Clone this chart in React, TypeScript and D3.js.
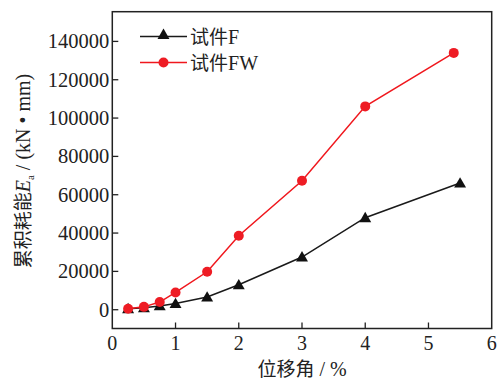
import React from "react";
import * as d3 from "d3";

// Drift ratio (%) and cumulative energy dissipation (kN·mm)
const driftF = [0.25, 0.5, 0.75, 1, 1.5, 2, 3, 4, 5.5];
const energyF = [500, 1000, 2000, 3200, 6600, 13000, 27500, 48000, 66100];
const driftFW = [0.25, 0.5, 0.75, 1, 1.5, 2, 3, 4, 5.4];
const energyFW = [500, 1500, 4000, 9000, 19800, 38600, 67300, 106100, 134000];
const xTicks = [0, 1, 2, 3, 4, 5, 6];
const yTicks = [0, 20000, 40000, 60000, 80000, 100000, 120000, 140000];
const seriesNames = ["F", "FW"];

const W = 500;
const H = 382;
const left = 112.3;
const right = 491.7;
const top = 11.7;
const bottom = 328.5;

const LATIN = "Times New Roman";
const CJK = "Noto Sans CJK SC";

export default function App() {
  const x = d3.scaleLinear().domain([0, 6]).range([left, right]);
  const y = d3.scaleLinear().domain([-9800, 155500]).range([bottom, top]);
  const line = d3
    .line<[number, number]>()
    .x((d) => x(d[0]))
    .y((d) => y(d[1]));
  const ptsF: [number, number][] = driftF.map((d, i) => [d, energyF[i]]);
  const ptsFW: [number, number][] = driftFW.map((d, i) => [d, energyFW[i]]);
  const tri = d3.symbol(d3.symbolTriangle, 62)();

  const legendX1 = 140;
  const legendX2 = 187;
  const legendY = [36.5, 62.5];

  return (
    <svg
      width={W}
      height={H}
      style={{ position: "absolute", left: 0, top: 0, background: "#fff" }}
    >
      {/* series lines */}
      <path d={line(ptsF) ?? ""} fill="none" stroke="#1a1a1a" strokeWidth={1.5} />
      <path d={line(ptsFW) ?? ""} fill="none" stroke="#f0171d" strokeWidth={1.5} />
      {ptsF.map((p, i) => (
        <path key={"f" + i} d={tri ?? ""} transform={`translate(${x(p[0])},${y(p[1]) + 1})`} fill="#111" />
      ))}
      {ptsFW.map((p, i) => (
        <circle key={"w" + i} cx={x(p[0])} cy={y(p[1])} r={5} fill="#ee1c24" />
      ))}

      {/* frame */}
      <rect x={left} y={top} width={right - left} height={bottom - top} fill="none" stroke="#222" strokeWidth={1.5} />

      <g fontFamily={LATIN}>
        {/* x ticks */}
        {xTicks.map((t) => (
          <g key={"x" + t}>
            {t > 0 && t < 6 && (
              <line x1={x(t)} x2={x(t)} y1={bottom} y2={bottom - 6} stroke="#222" strokeWidth={1.3} />
            )}
            <text x={x(t)} y={350} textAnchor="middle" fontSize={20} fill="#222" fontFamily={LATIN}>
              {`${t}`}
            </text>
          </g>
        ))}

        {/* y ticks */}
        {yTicks.map((t) => (
          <g key={"y" + t}>
            <line x1={left} x2={left + 6} y1={y(t)} y2={y(t)} stroke="#222" strokeWidth={1.3} />
            <text x={left - 3} y={y(t)} dy="0.34em" textAnchor="end" fontSize={20.5} fill="#222" fontFamily={LATIN}>
              {`${t}`}
            </text>
          </g>
        ))}

        {/* axis titles */}
        <text x={(left + right) / 2} y={376} textAnchor="middle" fontSize={20} fill="#222" fontFamily={LATIN}>
          <tspan fontFamily={CJK} fontSize={19}>位移角</tspan> / %
        </text>
        <text
          transform={`translate(30,171) rotate(-90)`}
          textAnchor="middle"
          fontSize={20}
          fill="#222"
          fontFamily={LATIN}
        >
          <tspan fontFamily={CJK} fontSize={19}>累积耗能</tspan>
          <tspan fontStyle="italic">E</tspan>
          <tspan fontSize={11} dy={4}>a</tspan>
          <tspan dy={-4}> / (kN • mm)</tspan>
        </text>

        {/* legend */}
        {seriesNames.map((name, i) => {
          const color = i === 0 ? "#1a1a1a" : "#f0171d";
          const cx = (legendX1 + legendX2) / 2;
          return (
            <g key={name}>
              <line x1={legendX1} x2={legendX2} y1={legendY[i]} y2={legendY[i]} stroke={color} strokeWidth={1.5} />
              {i === 0 ? (
                <path d={tri ?? ""} transform={`translate(${cx},${legendY[i] - 1})`} fill="#111" />
              ) : (
                <circle cx={cx} cy={legendY[i]} r={5} fill="#ee1c24" />
              )}
              <text x={190} y={legendY[i]} dy="0.35em" fontSize={20} fill="#222" fontFamily={LATIN}>
                <tspan fontFamily={CJK} fontSize={19}>试件</tspan>
                {name}
              </text>
            </g>
          );
        })}
      </g>
    </svg>
  );
}
